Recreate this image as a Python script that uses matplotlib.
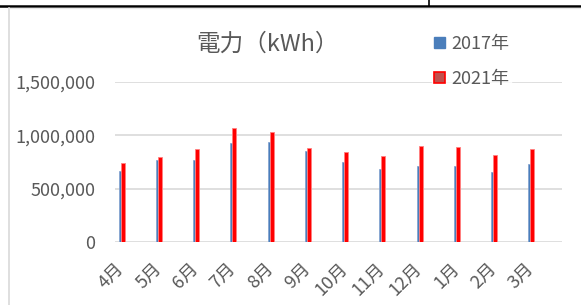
import numpy as np
import matplotlib.pyplot as plt
from matplotlib.patches import Patch
from matplotlib.lines import Line2D

plt.rcParams['font.family'] = ['Noto Sans CJK JP', 'DejaVu Sans']

months = ['4月', '5月', '6月', '7月', '8月', '9月', '10月', '11月', '12月', '1月', '2月', '3月']
kwh_2017 = [665000, 766000, 766000, 925000, 934000, 853000, 747000, 681000, 712000, 712000, 656000, 731000]
kwh_2021 = [740000, 800000, 875000, 1063000, 1028000, 885000, 840000, 803000, 897000, 894000, 815000, 872000]
yticks = [0, 500000, 1000000, 1500000]

txt = '#595959'
fig = plt.figure(figsize=(5.81, 3.05), dpi=100)
ax = fig.add_axes([115/581, 1-242.3/305, (562-115)/581, (242.3-81.7)/305])

x = np.arange(len(months))
ax.bar(x + 0.13, kwh_2017, width=0.06, color='#4A7EBB', edgecolor='#7F9FCF', linewidth=0.5, zorder=2)
ax.bar(x + 0.205, kwh_2021, width=0.11, color='#FF0000', edgecolor='#FF8080', linewidth=0.6, zorder=3)

ax.set_xlim(0, 12)
ax.set_ylim(0, 1500000)
ax.set_yticks(yticks)
ax.set_yticklabels([f'{v:,}' for v in yticks], color=txt, fontsize=13)
ax.set_xticks(x + 0.17)
ax.set_xticklabels(months, rotation=45, ha='right', va='center', rotation_mode='anchor',
                   color=txt, fontsize=13)
ax.tick_params(axis='y', length=0, pad=14)
ax.tick_params(axis='x', length=0, pad=17)
for s in ax.spines.values():
    s.set_visible(False)
ax.grid(axis='y', color='#D9D9D9', linewidth=1.2, zorder=0)
ax.set_axisbelow(True)

fig.text(267/581, 1-44/305, '電力（kWh）', ha='center', va='center', fontsize=17, color=txt)

handles = [Patch(facecolor='#4A7EBB', edgecolor='#4A7EBB'),
           Patch(facecolor='#C0504D', edgecolor='#FF0000', linewidth=1.2)]
leg = fig.legend(handles, ['2017年', '2021年'], loc='upper left',
                 bbox_to_anchor=(432/581, 1-33/305), frameon=True, fontsize=13,
                 handlelength=0.6, handleheight=0.6, handletextpad=0.35,
                 labelspacing=0.95, borderpad=0.1, borderaxespad=0)
leg.get_frame().set_facecolor('white')
leg.get_frame().set_edgecolor('white')
for t in leg.get_texts():
    t.set_color(txt)

# sheet cell borders and chart frame
fig.add_artist(Line2D([0, 1], [1-5.5/305, 1-5.5/305], color='black', linewidth=1.8))
fig.add_artist(Line2D([428.5/581, 428.5/581], [1-5.5/305, 1], color='black', linewidth=1.2))
fig.add_artist(Line2D([9/581, 9/581], [0, 1-8/305], color='#D9D9D9', linewidth=1.2))
fig.add_artist(Line2D([9/581, 1], [1-8/305, 1-8/305], color='#E6E6E6', linewidth=1))

fig.savefig('out.png', dpi=100)
